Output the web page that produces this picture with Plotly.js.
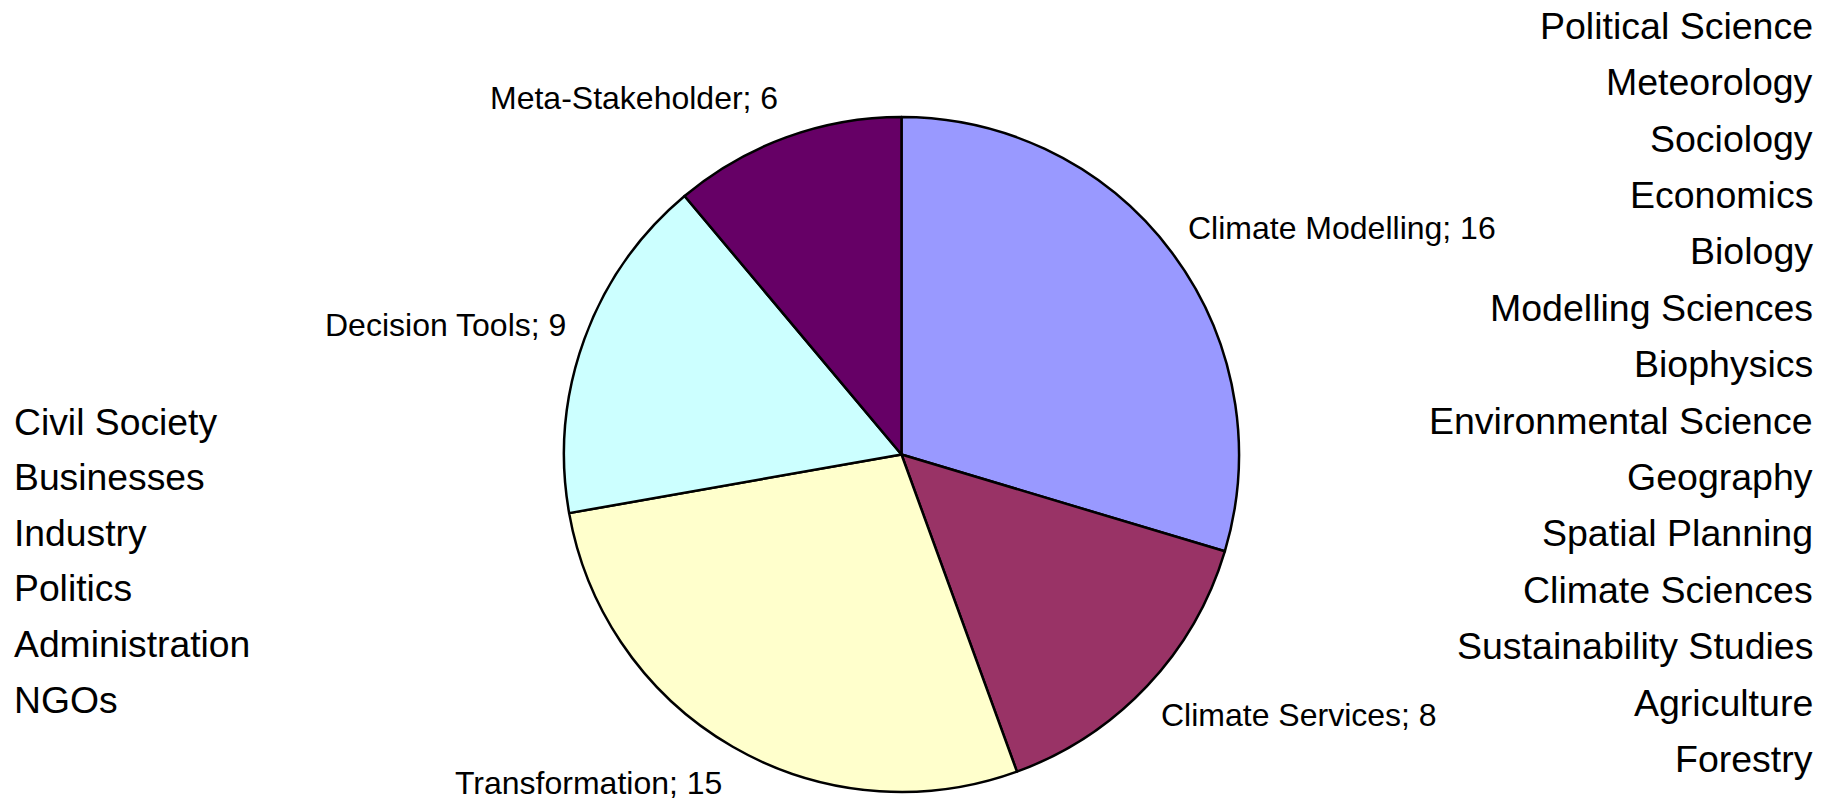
<!DOCTYPE html>
<html>
<head>
<meta charset="utf-8">
<script src="https://cdn.plot.ly/plotly-3.0.1.min.js"></script>
<style>html,body{margin:0;padding:0;background:#fff;}#chart{width:1831px;height:804px;}</style>
</head>
<body>
<div id="chart"></div>
<script>
const categories = ["Climate Modelling", "Climate Services", "Transformation", "Decision Tools", "Meta-Stakeholder"];
const counts = [16, 8, 15, 9, 6];
const sliceColors = ["#9999FF", "#993366", "#FFFFCC", "#CCFFFF", "#660066"];
const stakeholderLabels = ["Civil Society", "Businesses", "Industry", "Politics", "Administration", "NGOs"];
const disciplineLabels = ["Political Science", "Meteorology", "Sociology", "Economics", "Biology", "Modelling Sciences", "Biophysics", "Environmental Science", "Geography", "Spatial Planning", "Climate Sciences", "Sustainability Studies", "Agriculture", "Forestry"];

const W = 1831, H = 804;
const FONT = "Liberation Sans, Arial, sans-serif";

// pie placement (pixels)
const pieLeft = 564, pieRight = 1239, pieTop = 117, pieBottom = 792;
const cx = (pieLeft + pieRight) / 2, cy = (pieTop + pieBottom) / 2, R = (pieRight - pieLeft) / 2;

const trace = {
  type: "pie",
  labels: categories,
  values: counts,
  sort: false,
  direction: "clockwise",
  rotation: 0,
  marker: {colors: sliceColors, line: {color: "#000000", width: 2.5}},
  textinfo: "none",
  hoverinfo: "none",
  showlegend: false,
  domain: {x: [pieLeft / W, pieRight / W], y: [1 - pieBottom / H, 1 - pieTop / H]}
};

const annotations = [];

// slice labels placed at each slice's mid-angle, computed from the data
const total = counts.reduce((a, b) => a + b, 0);
let acc = 0;
categories.forEach((c, i) => {
  const mid = (acc + counts[i] / 2) / total * 2 * Math.PI;
  acc += counts[i];
  const s = Math.sin(mid), co = Math.cos(mid);
  const px = cx + 1.05 * R * s;
  const py = cy - 1.125 * R * co;
  annotations.push({
    text: c + "; " + counts[i], xref: "paper", yref: "paper",
    x: px / W, y: 1 - py / H,
    xanchor: s >= 0 ? "left" : "right", yanchor: "middle", showarrow: false,
    font: {family: FONT, size: 32, color: "#000000"}
  });
});

const leftTop = 421.5, leftStep = 55.6;
stakeholderLabels.forEach((t, i) => {
  annotations.push({
    text: t, xref: "paper", yref: "paper",
    x: 11.7 / W, y: 1 - (leftTop + i * leftStep) / H,
    xanchor: "left", yanchor: "middle", showarrow: false,
    font: {family: FONT, size: 37.3, color: "#000000"}
  });
});
const rightTop = 25.7, rightStep = (759 - 25.7) / 13;
disciplineLabels.forEach((t, i) => {
  annotations.push({
    text: t, xref: "paper", yref: "paper",
    x: 1814.5 / W, y: 1 - (rightTop + i * rightStep) / H,
    xanchor: "right", yanchor: "middle", showarrow: false,
    font: {family: FONT, size: 37.5, color: "#000000"}
  });
});

const layout = {
  width: W, height: H,
  margin: {l: 0, r: 0, t: 0, b: 0},
  paper_bgcolor: "#ffffff",
  plot_bgcolor: "#ffffff",
  showlegend: false,
  annotations: annotations
};

Plotly.newPlot("chart", [trace], layout, {displayModeBar: false, staticPlot: true});
</script>
</body>
</html>
